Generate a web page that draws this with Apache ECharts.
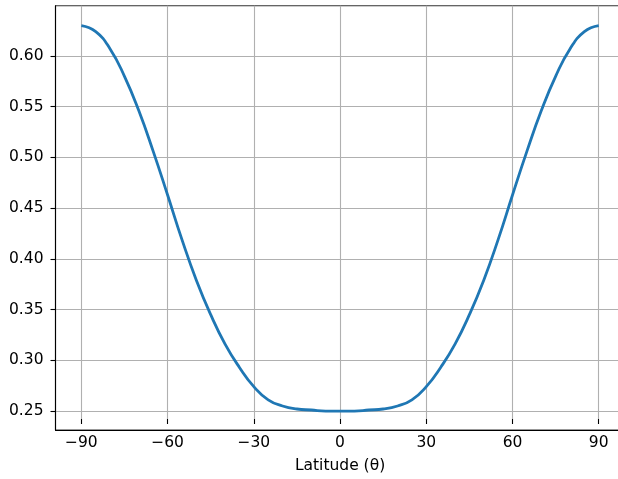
<!DOCTYPE html>
<html>
<head>
<meta charset="utf-8">
<script src="https://cdn.jsdelivr.net/npm/echarts@6/dist/echarts.min.js"></script>
<style>
html, body { margin: 0; padding: 0; overflow: hidden; background: #fff; width: 618px; height: 479px; }
#chart { width: 630px; height: 479px; }
</style>
</head>
<body>
<div id="chart"></div>
<script>
// Data
const latitudes = [-90,-85,-80,-75,-70,-65,-60,-55,-50,-45,-40,-35,-30,-25,-20,-15,-10,-5,0,5,10,15,20,25,30,35,40,45,50,55,60,65,70,75,80,85,90];
const values = [0.630,0.624,0.607,0.580,0.546,0.506,0.463,0.419,0.379,0.345,0.316,0.293,0.274,0.261,0.255,0.252,0.251,0.250,0.250,0.250,0.251,0.252,0.255,0.261,0.274,0.293,0.316,0.345,0.379,0.419,0.463,0.506,0.546,0.580,0.607,0.624,0.630];
const xTicks = { min: -90, max: 90, step: 30 };
const yTicks = { min: 0.25, max: 0.60, step: 0.05 };
const xLimits = [-99, 99];
const yLimits = [0.2313, 0.6496];
const xLabel = 'Latitude (θ)';

const W = 630, H = 479;
const FONT = 'DejaVu Sans';
const FS = 15.5;
const minus = s => String(s).replace('-', '\u2212');

// pixel frame of the axes
const fx0 = 55.5, fx1 = 624.6, fy0 = 5.7, fy1 = 430;
const pxPerX = (fx1 - fx0) / (xLimits[1] - xLimits[0]);
const pxPerY = (fy1 - fy0) / (yLimits[1] - yLimits[0]);
const gx0 = fx0 + (xTicks.min - xLimits[0]) * pxPerX;
const gx1 = fx0 + (xTicks.max - xLimits[0]) * pxPerX;
const gy0 = fy0 + (yLimits[1] - yTicks.max) * pxPerY;
const gy1 = fy0 + (yLimits[1] - yTicks.min) * pxPerY;

const chart = echarts.init(document.getElementById('chart'), null, { renderer: 'canvas' });
const gridColor = '#b0b0b0';
const option = {
  animation: false,
  backgroundColor: '#fff',
  grid: [
    { left: fx0, right: W - fx1, top: fy0, bottom: H - fy1, show: true, borderColor: '#333', borderWidth: 1.1, backgroundColor: 'transparent' },
    { left: gx0, right: W - gx1, top: fy0, bottom: H - fy1 },
    { left: fx0, right: W - fx1, top: gy0, bottom: H - gy1 }
  ],
  xAxis: [
    { gridIndex: 0, type: 'value', min: xLimits[0], max: xLimits[1],
      axisLine: { show: true, onZero: false, lineStyle: { color: '#000', width: 1.1 } },
      axisTick: { show: false }, axisLabel: { show: false }, splitLine: { show: false }, z: 3 },
    { gridIndex: 1, type: 'value', min: xTicks.min, max: xTicks.max, interval: xTicks.step,
      axisLine: { show: false, onZero: false },
      axisTick: { show: true, length: 5, lineStyle: { color: '#000', width: 1.1 } },
      axisLabel: { show: true, margin: 16, color: '#000', fontFamily: FONT, fontSize: FS, formatter: v => minus(v) },
      splitLine: { show: true, lineStyle: { color: gridColor, width: 1.1 } },
      name: xLabel, nameLocation: 'middle', nameGap: 39,
      nameTextStyle: { color: '#000', fontFamily: FONT, fontSize: FS } },
    { gridIndex: 2, type: 'value', min: xLimits[0], max: xLimits[1], show: false }
  ],
  yAxis: [
    { gridIndex: 0, type: 'value', min: yLimits[0], max: yLimits[1],
      axisLine: { show: true, onZero: false, lineStyle: { color: '#000', width: 1.1 } },
      axisTick: { show: false }, axisLabel: { show: false }, splitLine: { show: false }, z: 3 },
    { gridIndex: 1, type: 'value', min: 0, max: 1, show: false },
    { gridIndex: 2, type: 'value', min: yTicks.min, max: yTicks.max, interval: yTicks.step,
      axisLine: { show: false, onZero: false },
      axisTick: { show: true, length: 5, lineStyle: { color: '#000', width: 1.1 } },
      axisLabel: { show: true, margin: 12, color: '#000', fontFamily: FONT, fontSize: FS, formatter: v => v.toFixed(2) },
      splitLine: { show: true, lineStyle: { color: gridColor, width: 1.1 } } }
  ],
  series: [{
    type: 'line',
    xAxisIndex: 0, yAxisIndex: 0,
    data: latitudes.map((t, i) => [t, values[i]]),
    showSymbol: false,
    smooth: 0.5,
    lineStyle: { color: '#1f77b4', width: 2.8 },
    z: 5
  }]
};
chart.setOption(option);
</script>
</body>
</html>
